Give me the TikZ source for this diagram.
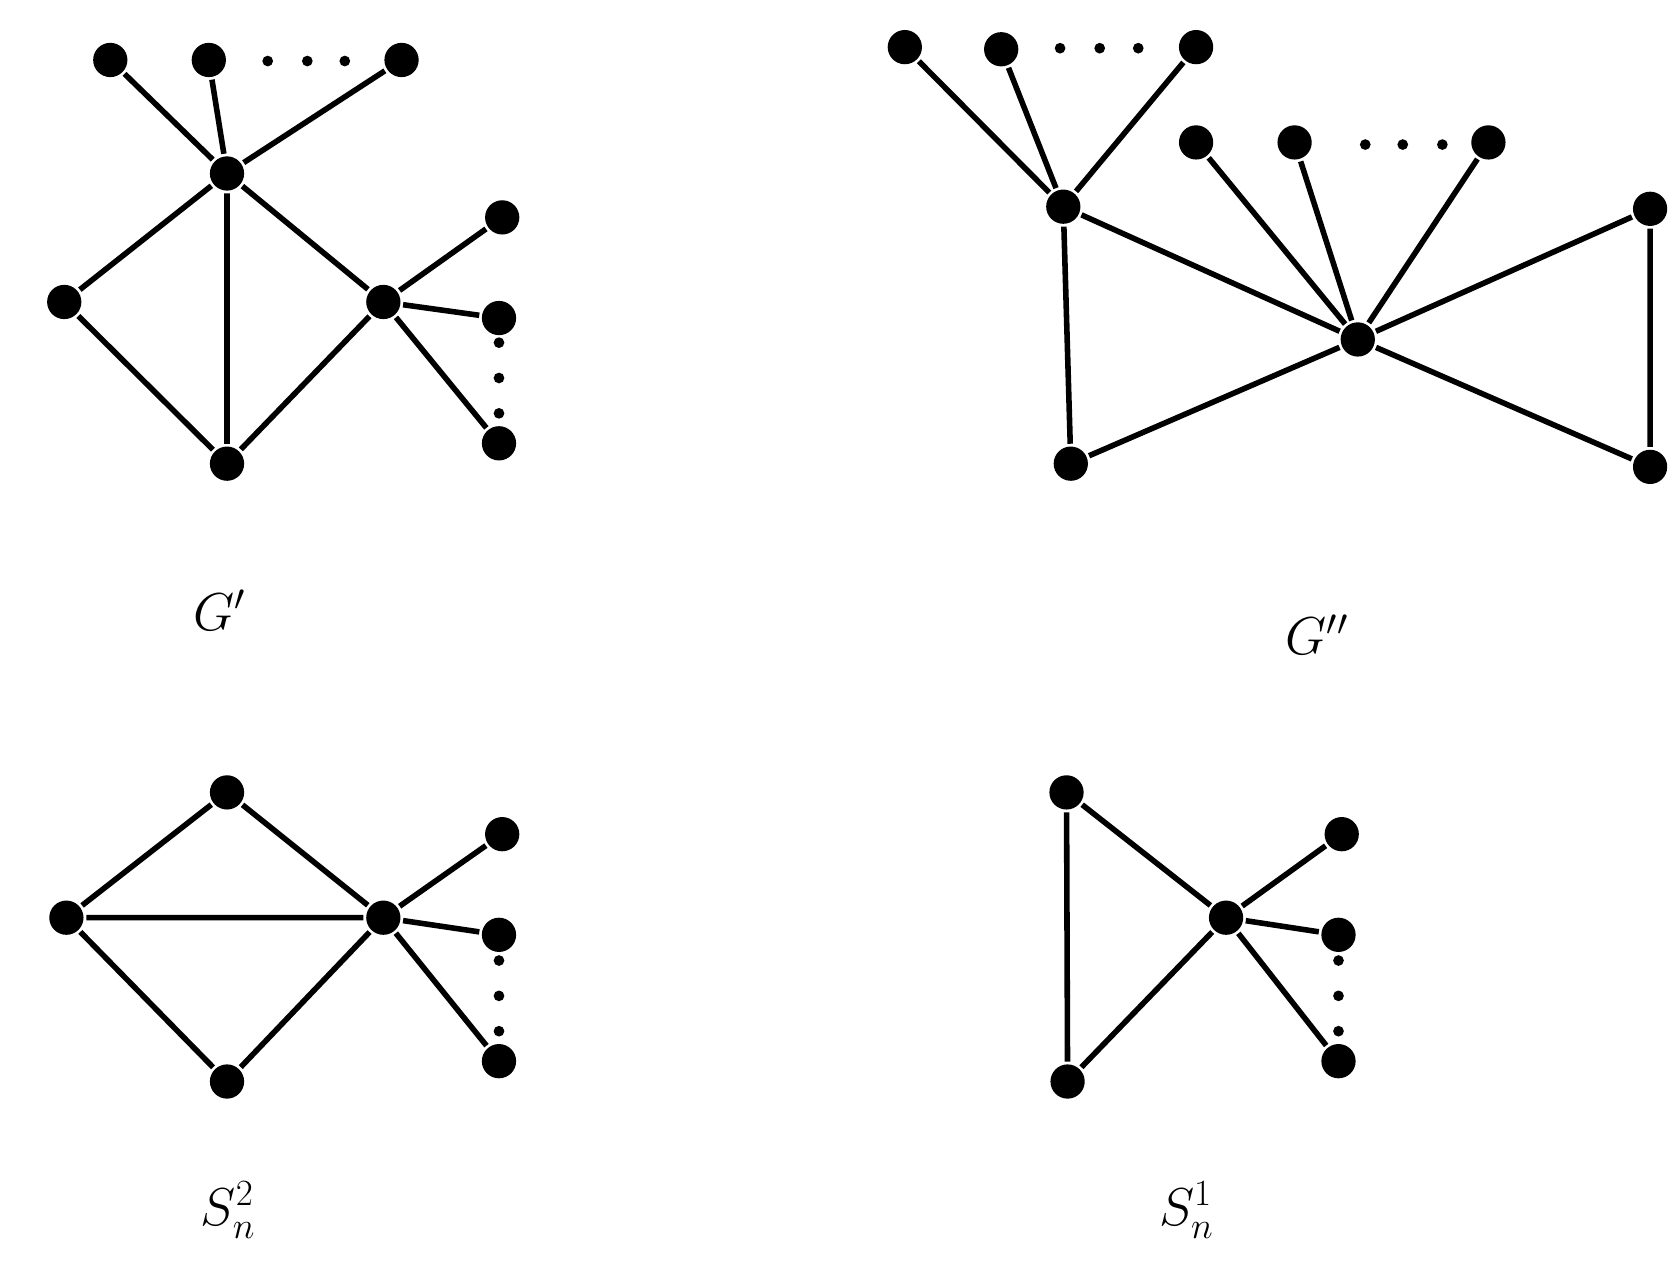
\documentclass[tikz,border=0pt]{standalone}
\begin{document}
\begin{tikzpicture}[x=0.5pt,y=-0.5pt,line width=2.6pt,
 v/.style={circle,fill=black,inner sep=0pt,minimum size=16pt},
 d/.style={circle,fill=black,inner sep=0pt,minimum size=5pt},
 lab/.style={font=\fontsize{26}{30}\selectfont}]
\useasboundingbox (0,0) rectangle (1568,1185);
% G'
\node[v] (a1) at (103,56) {}; \node[v] (a2) at (195,56) {}; \node[v] (a3) at (375,56) {};
\foreach \x/\n in {250/1,287/2,322/3} \node[d] (ad\n) at (\x,57) {};
\node[v] (ah) at (212,162) {}; \node[v] (al) at (60,282) {}; \node[v] (ab) at (212,433) {};
\node[v] (ar) at (358,282) {};
\node[v] (ar1) at (469,203) {}; \node[v] (ar2) at (466,297) {}; \node[v] (ar3) at (466,414) {};
\foreach \y/\n in {320/1,353/2,386/3} \node[d] (avd\n) at (466,\y) {};
\draw (ah)--(a1) (ah)--(a2) (ah)--(a3) (ah)--(al) (ah)--(ab) (ah)--(ar) (al)--(ab) (ab)--(ar)
 (ar)--(ar1) (ar)--(ar2) (ar)--(ar3);
\node[lab] (lg1) at (205,570) {$G'$};
% G''
\node[v] (b1) at (845,44) {}; \node[v] (b2) at (935,46) {}; \node[v] (b3) at (1117,44) {};
\foreach \x/\n in {990/1,1027/2,1063/3} \node[d] (bd\n) at (\x,45) {};
\node[v] (bh) at (993,193) {};
\node[v] (c1) at (1117,133) {}; \node[v] (c2) at (1209,133) {}; \node[v] (c3) at (1390,133) {};
\foreach \x/\n in {1275/1,1310/2,1347/3} \node[d] (cd\n) at (\x,135) {};
\node[v] (bc) at (1268,317) {}; \node[v] (bb) at (1000,433) {};
\node[v] (br1) at (1541,195) {}; \node[v] (br2) at (1541,436) {};
\draw (bh)--(b1) (bh)--(b2) (bh)--(b3) (bh)--(bc) (bh)--(bb) (bb)--(bc)
 (bc)--(c1) (bc)--(c2) (bc)--(c3) (bc)--(br1) (bc)--(br2) (br1)--(br2);
\node[lab] (lg2) at (1230,593) {$G''$};
% S_n^2
\node[v] (st) at (212,740) {}; \node[v] (sl) at (62,857) {}; \node[v] (sb) at (212,1010) {};
\node[v] (sh) at (358,857) {};
\node[v] (s1) at (469,779) {}; \node[v] (s2) at (466,873) {}; \node[v] (s3) at (466,991) {};
\foreach \y/\n in {897/1,930/2,963/3} \node[d] (sd\n) at (466,\y) {};
\draw (sl)--(st) (st)--(sh) (sl)--(sh) (sl)--(sb) (sb)--(sh) (sh)--(s1) (sh)--(s2) (sh)--(s3);
\node[lab] (ls2) at (213,1130) {$S_n^2$};
% S_n^1
\node[v] (tt) at (996,740) {}; \node[v] (tb) at (997,1010) {}; \node[v] (th) at (1145,857) {};
\node[v] (t1) at (1253,779) {}; \node[v] (t2) at (1250,873) {}; \node[v] (t3) at (1250,991) {};
\foreach \y/\n in {897/1,930/2,963/3} \node[d] (td\n) at (1250,\y) {};
\draw (tt)--(tb) (tt)--(th) (tb)--(th) (th)--(t1) (th)--(t2) (th)--(t3);
\node[lab] (ls1) at (1108,1130) {$S_n^1$};
\end{tikzpicture}
\end{document}
